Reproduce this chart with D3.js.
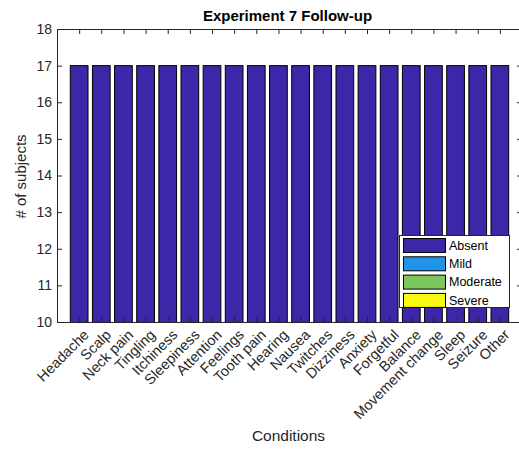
<!DOCTYPE html>
<html>
<head>
<meta charset="utf-8">
<script src="https://cdn.jsdelivr.net/npm/d3@7"></script>
<style>
  html, body { margin: 0; padding: 0; background: #fff; }
  svg { display: block; font-family: "Liberation Sans", Arial, Helvetica, sans-serif; }
</style>
</head>
<body>
<svg id="chart" width="519" height="450"></svg>
<script>
// Condition categories along the x axis
const categories = ["Headache", "Scalp", "Neck pain", "Tingling", "Itchiness", "Sleepiness",
  "Attention", "Feelings", "Tooth pain", "Hearing", "Nausea", "Twitches", "Dizziness",
  "Anxiety", "Forgetful", "Balance", "Movement change", "Sleep", "Seizure", "Other"];

// Severity series (stacked), number of subjects per condition
const severities = ["Absent", "Mild", "Moderate", "Severe"];
const absent   = [17, 17, 17, 17, 17, 17, 17, 17, 17, 17, 17, 17, 17, 17, 17, 17, 17, 17, 17, 17];
const mild     = [0, 0, 0, 0, 0, 0, 0, 0, 0, 0, 0, 0, 0, 0, 0, 0, 0, 0, 0, 0];
const moderate = [0, 0, 0, 0, 0, 0, 0, 0, 0, 0, 0, 0, 0, 0, 0, 0, 0, 0, 0, 0];
const severe   = [0, 0, 0, 0, 0, 0, 0, 0, 0, 0, 0, 0, 0, 0, 0, 0, 0, 0, 0, 0];

const yTicks = [10, 11, 12, 13, 14, 15, 16, 17, 18];
const colors = ["#3E26A8", "#2194EA", "#7DC75C", "#F9FB0E"];

const svg = d3.select("#chart");
const plot = { left: 57, right: 522, top: 29, bottom: 322 };

// Linear x over category index, with one slot of margin on each side
const x = d3.scaleLinear().domain([0, categories.length + 1]).range([plot.left, plot.right]);
const y = d3.scaleLinear().domain([10, 18]).range([plot.bottom, plot.top]);
const barWidth = (x(1) - x(0)) * 0.8;

const rows = categories.map((c, i) => ({
  category: c, idx: i + 1,
  Absent: absent[i], Mild: mild[i], Moderate: moderate[i], Severe: severe[i]
}));
const stacked = d3.stack().keys(severities)(rows);

svg.append("clipPath").attr("id", "plotClip")
  .append("rect")
  .attr("x", plot.left).attr("y", plot.top)
  .attr("width", plot.right - plot.left).attr("height", plot.bottom - plot.top);

const barsG = svg.append("g").attr("clip-path", "url(#plotClip)");
stacked.forEach((layer, k) => {
  barsG.append("g")
    .selectAll("rect")
    .data(layer.filter(d => d[1] - d[0] > 0))
    .join("rect")
    .attr("x", d => x(d.data.idx) - barWidth / 2)
    .attr("width", barWidth)
    .attr("y", d => y(d[1]))
    .attr("height", d => y(d[0]) - y(d[1]))
    .attr("fill", colors[k])
    .attr("stroke", "#000")
    .attr("stroke-width", 1);
});

// Axes: ticks point inward on all four sides
const tickLen = 5;
const tickPositions = categories.map((c, i) => i + 1);

svg.append("g")
  .attr("transform", `translate(0,${plot.bottom})`)
  .call(d3.axisBottom(x).tickValues(tickPositions).tickSize(-tickLen).tickFormat(""))
  .call(g => g.select(".domain").attr("d", `M${plot.left},0.5H${plot.right}`));

svg.append("g")
  .attr("transform", `translate(0,${plot.top})`)
  .call(d3.axisTop(x).tickValues(tickPositions).tickSize(-tickLen).tickFormat(""))
  .call(g => g.select(".domain").attr("d", `M${plot.left},0.5H${plot.right}`));

const yLeft = svg.append("g")
  .attr("transform", `translate(${plot.left},0)`)
  .call(d3.axisLeft(y).tickValues(yTicks).tickSize(-tickLen).tickPadding(5))
  .call(g => g.select(".domain").attr("d", `M0.5,${plot.top}V${plot.bottom}`));
yLeft.selectAll("text").attr("font-size", 14).attr("fill", "#262626")
  .attr("font-family", "Liberation Sans, Arial, sans-serif");

svg.append("g")
  .attr("transform", `translate(${plot.right},0)`)
  .call(d3.axisRight(y).tickValues(yTicks).tickSize(-tickLen).tickFormat(""))
  .call(g => g.select(".domain").attr("d", `M-0.5,${plot.top}V${plot.bottom}`));

svg.selectAll(".tick line").attr("stroke", "#262626");
svg.selectAll(".domain").attr("stroke", "#262626");

// Rotated category labels
svg.append("g")
  .selectAll("text")
  .data(categories)
  .join("text")
  .attr("transform", (d, i) => `translate(${x(i + 1) + 4},${plot.bottom + 7}) rotate(-45)`)
  .attr("text-anchor", "end")
  .attr("dy", "0.65em")
  .attr("font-size", 14.5)
  .attr("fill", "#262626")
  .text(d => d);

// Title and axis titles
svg.append("text")
  .attr("x", (plot.left + plot.right) / 2 - 2).attr("y", 21)
  .attr("text-anchor", "middle")
  .attr("font-size", 15).attr("font-weight", "bold")
  .attr("fill", "#000")
  .text("Experiment 7 Follow-up");

svg.append("text")
  .attr("x", (plot.left + plot.right) / 2 - 1).attr("y", 441)
  .attr("text-anchor", "middle")
  .attr("font-size", 15.5)
  .attr("fill", "#262626")
  .text("Conditions");

svg.append("text")
  .attr("transform", `translate(26,${(plot.top + plot.bottom) / 2 + 1}) rotate(-90)`)
  .attr("text-anchor", "middle")
  .attr("font-size", 15)
  .attr("fill", "#262626")
  .text("# of subjects");

// Legend
const legend = svg.append("g").attr("transform", "translate(399,235)");
legend.append("rect")
  .attr("x", 0.5).attr("y", 0.5)
  .attr("width", 110).attr("height", 72)
  .attr("fill", "#fff").attr("stroke", "#262626");
severities.forEach((s, k) => {
  const row = legend.append("g").attr("transform", `translate(0,${3 + k * 18.3})`);
  row.append("rect")
    .attr("x", 4.5).attr("y", 0.5)
    .attr("width", 42).attr("height", 14)
    .attr("fill", colors[k]).attr("stroke", "#000");
  row.append("text")
    .attr("x", 50).attr("y", 7.5).attr("dy", "0.35em")
    .attr("font-size", 12.5)
    .attr("fill", "#000")
    .text(s);
});
</script>
</body>
</html>
